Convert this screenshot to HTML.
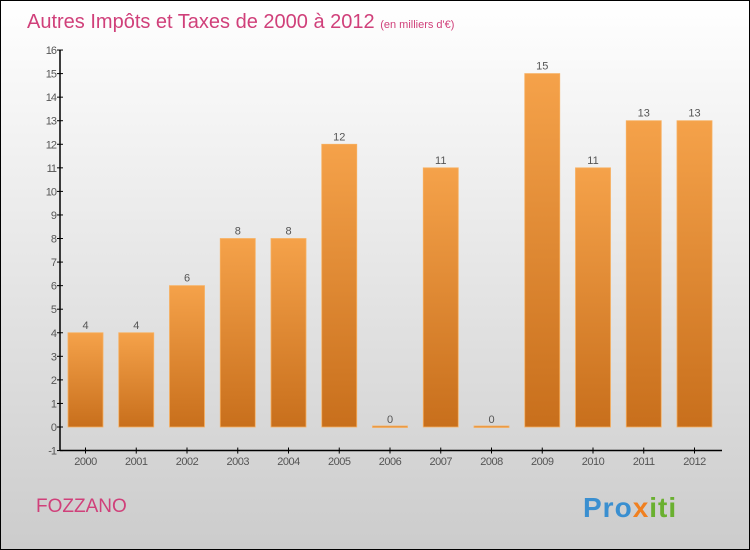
<!DOCTYPE html>
<html><head><meta charset="utf-8"><style>
body{margin:0;width:750px;height:550px;overflow:hidden}
svg{display:block;font-family:"Liberation Sans",sans-serif}
</style></head><body>
<svg width="750" height="550">
<defs>
<linearGradient id="bg" x1="0" y1="0" x2="0" y2="1"><stop offset="0" stop-color="#ffffff"/><stop offset="1" stop-color="#cccccc"/></linearGradient>
<linearGradient id="bar" x1="0" y1="0" x2="0" y2="1"><stop offset="0" stop-color="#f5a24a"/><stop offset="1" stop-color="#c86f1c"/></linearGradient>
</defs>
<rect x="0.5" y="0.5" width="749" height="549" fill="url(#bg)" stroke="#000"/>
<text x="27" y="28" font-size="20" fill="#d0407a">Autres Impôts et Taxes de 2000 à 2012 <tspan font-size="11">(en milliers d'€)</tspan></text>
<text x="36" y="512" font-size="19" fill="#d0407a">FOZZANO</text>
<text x="583" y="517" font-size="28" font-weight="bold" fill="#3a8fd0" letter-spacing="1">Pro<tspan fill="#f08020">x</tspan><tspan fill="#6ab030">iti</tspan></text>
<g id="plot"></g>
</svg>
<script>
const years=["2000","2001","2002","2003","2004","2005","2006","2007","2008","2009","2010","2011","2012"];
const values=[4,4,6,8,8,12,0,11,0,15,11,13,13];
const yTicks=[-1,0,1,2,3,4,5,6,7,8,9,10,11,12,13,14,15,16];
const NS="http://www.w3.org/2000/svg";
const g=document.getElementById('plot');
const y=v=>427-(v)*23.56;
const x=i=>85.5+i*50.75;
function mk(t,a,txt){const e=document.createElementNS(NS,t);for(const k in a)e.setAttribute(k,a[k]);if(txt!==undefined)e.textContent=txt;g.appendChild(e);return e;}
let ax=mk('line',{x1:60,y1:y(-1),x2:722,y2:y(-1),stroke:'#000','stroke-width':1.5});


let ay=mk('line',{x1:60,y1:y(16),x2:60,y2:y(-1),stroke:'#000','stroke-width':1.5});


yTicks.forEach(t=>{
 mk('line',{x1:57,y1:y(t),x2:63,y2:y(t),stroke:'#000'});
 const l=mk('text',{x:56,y:y(t)+4,'font-size':11,fill:'#555','text-anchor':'end','letter-spacing':'-1'},t);
 
 
});
years.forEach((yr,i)=>{
 const v=values[i];
 const top=y(Math.max(v,0)),h=Math.max(Math.abs(y(v)-y(0)),1.5);
 const b=mk('rect',{x:x(i)-17.5,y:v>0?top:y(0)-1,width:35,height:h,fill:'url(#bar)',stroke:'#f7b060','stroke-width':0.8});
 
 
 const vl=mk('text',{x:x(i),y:(v>0?top:y(0))-4,'font-size':11,fill:'#555','text-anchor':'middle'},v);
 
 
 mk('line',{x1:x(i),y1:y(-1)-3,x2:x(i),y2:y(-1)+3,stroke:'#000'});
 const xl=mk('text',{x:x(i),y:465,'font-size':11,fill:'#555','text-anchor':'middle','letter-spacing':'-0.5'},yr);
 
 
});
</script>
</body></html>
